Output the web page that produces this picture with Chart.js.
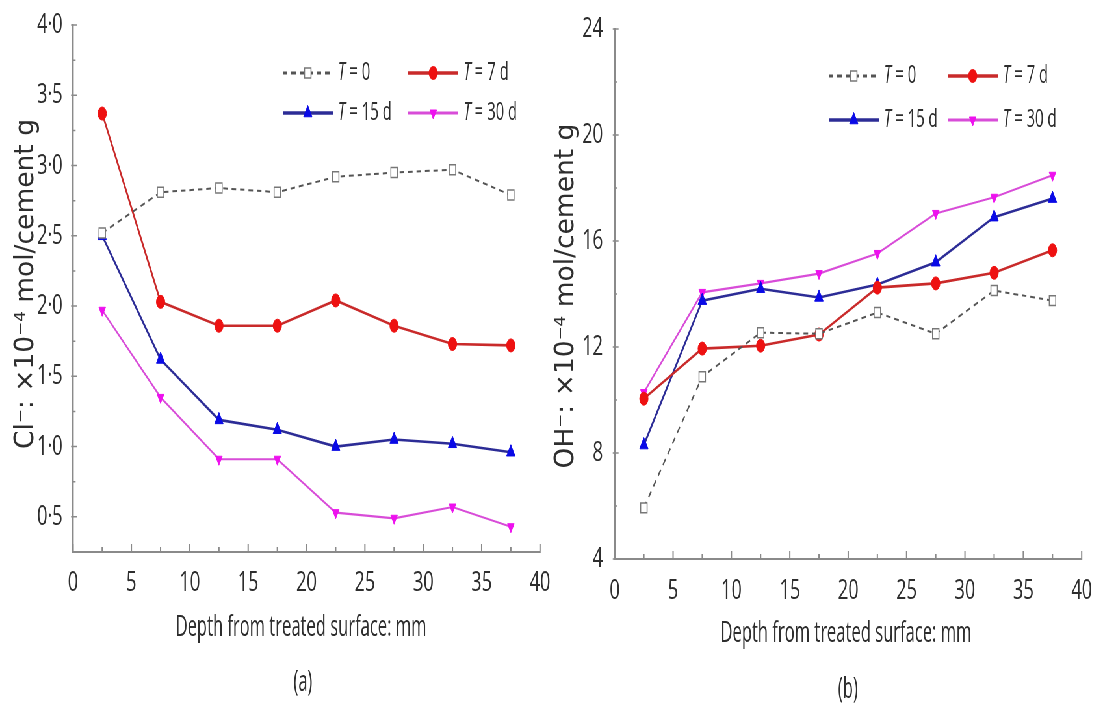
<!DOCTYPE html>
<html>
<head>
<meta charset="utf-8">
<script src="https://cdn.jsdelivr.net/npm/chart.js@4/dist/chart.umd.min.js"></script>
<style>
  html, body { margin: 0; padding: 0; background: #fff; overflow: hidden; }
  #wrap { position: absolute; left: 0; top: 0; width: 1691px; height: 708px;
          transform: scaleX(0.65); transform-origin: 0 0; }
  #ca { position: absolute; left: 0; top: 0; }
  #cb { position: absolute; left: 838px; top: 0; }
</style>
</head>
<body>
<div id="wrap">
  <canvas id="ca" width="880" height="708"></canvas>
  <canvas id="cb" width="853" height="708"></canvas>
</div>
<script>
// Sampling depths (mm) shared by both panels
const depth = [2.5, 7.5, 12.5, 17.5, 22.5, 27.5, 32.5, 37.5];

// Panel (a): chloride content, x10^-4 mol / cement g
const clT0  = [2.52, 2.81, 2.84, 2.81, 2.92, 2.95, 2.97, 2.79];
const clT7  = [3.37, 2.03, 1.86, 1.86, 2.04, 1.86, 1.73, 1.72];
const clT15 = [2.50, 1.62, 1.19, 1.12, 1.00, 1.05, 1.02, 0.96];
const clT30 = [1.97, 1.35, 0.91, 0.91, 0.53, 0.49, 0.57, 0.43];

// Panel (b): hydroxide content, x10^-4 mol / cement g
const ohT0  = [5.93, 10.88, 12.54, 12.50, 13.30, 12.50, 14.13, 13.75];
const ohT7  = [10.05, 11.94, 12.05, 12.47, 14.24, 14.40, 14.80, 15.65];
const ohT15 = [8.30, 13.75, 14.20, 13.87, 14.36, 15.20, 16.90, 17.60];
const ohT30 = [10.28, 14.06, 14.40, 14.77, 15.53, 17.04, 17.65, 18.48];

// Series names (italic T drawn separately)
const seriesNames = ['= 0', '= 7 d', '= 15 d', '= 30 d'];

// Axis ticks and labels
const xTicks = [0, 5, 10, 15, 20, 25, 30, 35, 40];
const xTickLabels = ['0', '5', '10', '15', '20', '25', '30', '35', '40'];
const xMinorTicks = [2.5, 7.5, 12.5, 17.5, 22.5, 27.5, 32.5, 37.5];

const clTicks = [0.5, 1.0, 1.5, 2.0, 2.5, 3.0, 3.5, 4.0];
const clTickLabels = ['0·5', '1·0', '1·5', '2·0', '2·5', '3·0', '3·5', '4·0'];
const clMinorTicks = [0.75, 1.25, 1.75, 2.25, 2.75, 3.25, 3.75];

const ohTicks = [4, 8, 12, 16, 20, 24];
const ohTickLabels = ['4', '8', '12', '16', '20', '24'];
const ohMinorTicks = [6, 10, 14, 18, 22];

const SQ = 0.65; // horizontal compression of the whole figure
const FONT = '"Open Sans", "Liberation Sans", sans-serif';
const INK = '#2e2e2e';

function seriesStyles(values) {
  return [
    { data: values[0], borderColor: '#555', borderWidth: 2, borderDash: [7, 6],
      pointStyle: 'rect', pointRadius: 7, pointBackgroundColor: '#fff',
      pointBorderColor: '#777', pointBorderWidth: 1.5 },
    { data: values[1], borderColor: '#c92a2a', borderWidth: 2.6,
      pointStyle: 'circle', pointRadius: 6.5, pointBackgroundColor: '#ee1111',
      pointBorderColor: '#ee1111', pointBorderWidth: 1 },
    { data: values[2], borderColor: '#2c2c96', borderWidth: 2.6,
      pointStyle: 'triangle', pointRadius: 7.5, pointBackgroundColor: '#0a0ae6',
      pointBorderColor: '#0a0ae6', pointBorderWidth: 1 },
    { data: values[3], borderColor: '#d84cd8', borderWidth: 2.2,
      pointStyle: 'triangle', pointRotation: 180, pointRadius: 6, pointBackgroundColor: '#ee11ee',
      pointBorderColor: '#ee11ee', pointBorderWidth: 1 }
  ].map((d, i) => Object.assign(d, { label: 'T ' + seriesNames[i], tension: 0, fill: false }));
}

// Draws a string narrowed by factor k around (x, y)
function narrowText(ctx, text, x, y, k, align) {
  ctx.save();
  ctx.translate(x, y);
  ctx.scale(k, 1);
  ctx.textAlign = align;
  ctx.fillText(text, 0, 0);
  const w = ctx.measureText(text).width * k;
  ctx.restore();
  return w;
}

// Inward tick marks, legend and texts
const decor = {
  id: 'decor',
  beforeDatasetsDraw(chart, args, o) {
    const ctx = chart.ctx, xs = chart.scales.x, ys = chart.scales.y, a = chart.chartArea;
    ctx.save();
    ctx.strokeStyle = '#8a8a8a';
    ctx.lineWidth = 2;
    ctx.beginPath();
    xTicks.forEach(v => { const p = xs.getPixelForValue(v); ctx.moveTo(p, a.bottom + 1); ctx.lineTo(p, a.bottom - 8); });
    xMinorTicks.forEach(v => { const p = xs.getPixelForValue(v); ctx.moveTo(p, a.bottom + 1); ctx.lineTo(p, a.bottom - 5); });
    ctx.stroke();
    ctx.lineWidth = 1.5;
    ctx.beginPath();
    o.yMajor.forEach(v => { const p = ys.getPixelForValue(v); ctx.moveTo(a.left - 3, p); ctx.lineTo(a.left + 6, p); });
    o.yMinor.forEach(v => { const p = ys.getPixelForValue(v); ctx.moveTo(a.left, p); ctx.lineTo(a.left + 4, p); });
    ctx.stroke();
    ctx.restore();
  },
  afterDraw(chart, args, o) {
    const ctx = chart.ctx;
    ctx.save();
    // legend
    const ds = chart.data.datasets;
    const cols = o.legendCols, rows = o.legendRows, len = 77;
    ds.forEach((d, i) => {
      const x0 = cols[i % 2], y0 = rows[Math.floor(i / 2)];
      ctx.save();
      ctx.strokeStyle = d.borderColor;
      ctx.lineWidth = d.borderWidth + 0.8;
      ctx.setLineDash(d.borderDash || []);
      ctx.beginPath(); ctx.moveTo(x0, y0); ctx.lineTo(x0 + len, y0); ctx.stroke();
      ctx.setLineDash([]);
      ctx.fillStyle = d.pointBackgroundColor;
      ctx.strokeStyle = d.pointBorderColor;
      ctx.lineWidth = d.pointBorderWidth;
      Chart.helpers.drawPoint(ctx, { pointStyle: d.pointStyle, rotation: d.pointRotation || 0,
        radius: d.pointRadius, borderWidth: d.pointBorderWidth }, x0 + len / 2, y0);
      ctx.restore();
      ctx.fillStyle = INK;
      ctx.textBaseline = 'middle';
      ctx.font = 'italic 26px ' + FONT;
      const tw = narrowText(ctx, 'T', x0 + len + 8, y0, 0.88, 'left');
      ctx.font = '26px ' + FONT;
      narrowText(ctx, ' ' + seriesNames[i], x0 + len + 8 + tw, y0, 0.88, 'left');
    });
    // x-axis title and panel label
    ctx.fillStyle = INK;
    ctx.textBaseline = 'middle';
    ctx.font = '30px ' + FONT;
    narrowText(ctx, 'Depth from treated surface: mm', o.xTitle[0], o.xTitle[1], 0.85, 'center');
    narrowText(ctx, o.panel, o.panelPos[0], o.panelPos[1], 0.85, 'center');
    // y-axis title, kept at natural proportions
    ctx.save();
    ctx.translate(o.yTitle[0], o.yTitle[1]);
    ctx.scale(1 / SQ, 1);
    ctx.rotate(-Math.PI / 2);
    ctx.textAlign = 'center';
    ctx.textBaseline = 'alphabetic';
    ctx.font = '26.5px "DejaVu Sans", sans-serif';
    ctx.fillText(o.yText, 0, 0);
    ctx.restore();
    ctx.restore();
  }
};

function makeChart(id, cfg) {
  const W = cfg.width, H = 708;
  return new Chart(document.getElementById(id), {
    type: 'line',
    data: { labels: depth, datasets: seriesStyles(cfg.values).map(d => Object.assign(d, {
      data: d.data.map((v, i) => ({ x: depth[i], y: v })) })) },
    options: {
      responsive: false,
      animation: false,
      layout: { padding: { left: 0, top: cfg.area.top, right: W - cfg.area.right, bottom: 0 } },
      plugins: { legend: { display: false }, tooltip: { enabled: false }, decor: cfg.decor },
      scales: {
        x: {
          type: 'linear', min: 0, max: 40,
          afterBuildTicks: s => { s.ticks = xTicks.map(v => ({ value: v })); },
          afterFit: s => { s.height = H - cfg.area.bottom; },
          grid: { display: false },
          border: { display: true, color: '#8a8a8a', width: 2 },
          ticks: { padding: cfg.xPad, maxRotation: 0, autoSkip: false, color: INK,
                   font: { family: FONT, size: 28 },
                   callback: (v) => xTickLabels[xTicks.indexOf(v)] }
        },
        y: {
          type: 'linear', min: cfg.yMin, max: cfg.yMax,
          afterBuildTicks: s => { s.ticks = cfg.yTicks.map(v => ({ value: v })); },
          afterFit: s => { s.width = cfg.area.left; },
          grid: { display: false },
          border: { display: true, color: '#8a8a8a', width: 2.4 },
          ticks: { padding: cfg.yPad, autoSkip: false, color: INK,
                   font: { family: FONT, size: 28 },
                   callback: (v) => cfg.yLabels[cfg.yTicks.indexOf(v)] }
        }
      }
    },
    plugins: [decor]
  });
}

makeChart('ca', {
  width: 880,
  values: [clT0, clT7, clT15, clT30],
  area: { left: 112.3, right: 830.8, top: 25, bottom: 552 },
  xPad: 6, yPad: 8,
  yMin: 0.25, yMax: 4.0, yTicks: clTicks, yLabels: clTickLabels,
  decor: { yMajor: clTicks, yMinor: clMinorTicks,
           legendCols: [435, 628], legendRows: [73, 113],
           xTitle: [463, 627], panel: '(a)', panelPos: [466, 682],
           yTitle: [50.8, 284], yText: 'Cl⁻: ×10⁻⁴ mol/cement g' }
});

makeChart('cb', {
  width: 853,
  values: [ohT0, ohT7, ohT15, ohT30],
  area: { left: 107.7, right: 826.2, top: 29, bottom: 559 },
  xPad: 7, yPad: 10,
  yMin: 4, yMax: 24, yTicks: ohTicks, yLabels: ohTickLabels,
  decor: { yMajor: ohTicks, yMinor: ohMinorTicks,
           legendCols: [437, 620], legendRows: [76, 120],
           xTitle: [463.5, 633], panel: '(b)', panelPos: [466.6, 689],
           yTitle: [43.5, 296], yText: 'OH⁻: ×10⁻⁴ mol/cement g' }
});
</script>
</body>
</html>
